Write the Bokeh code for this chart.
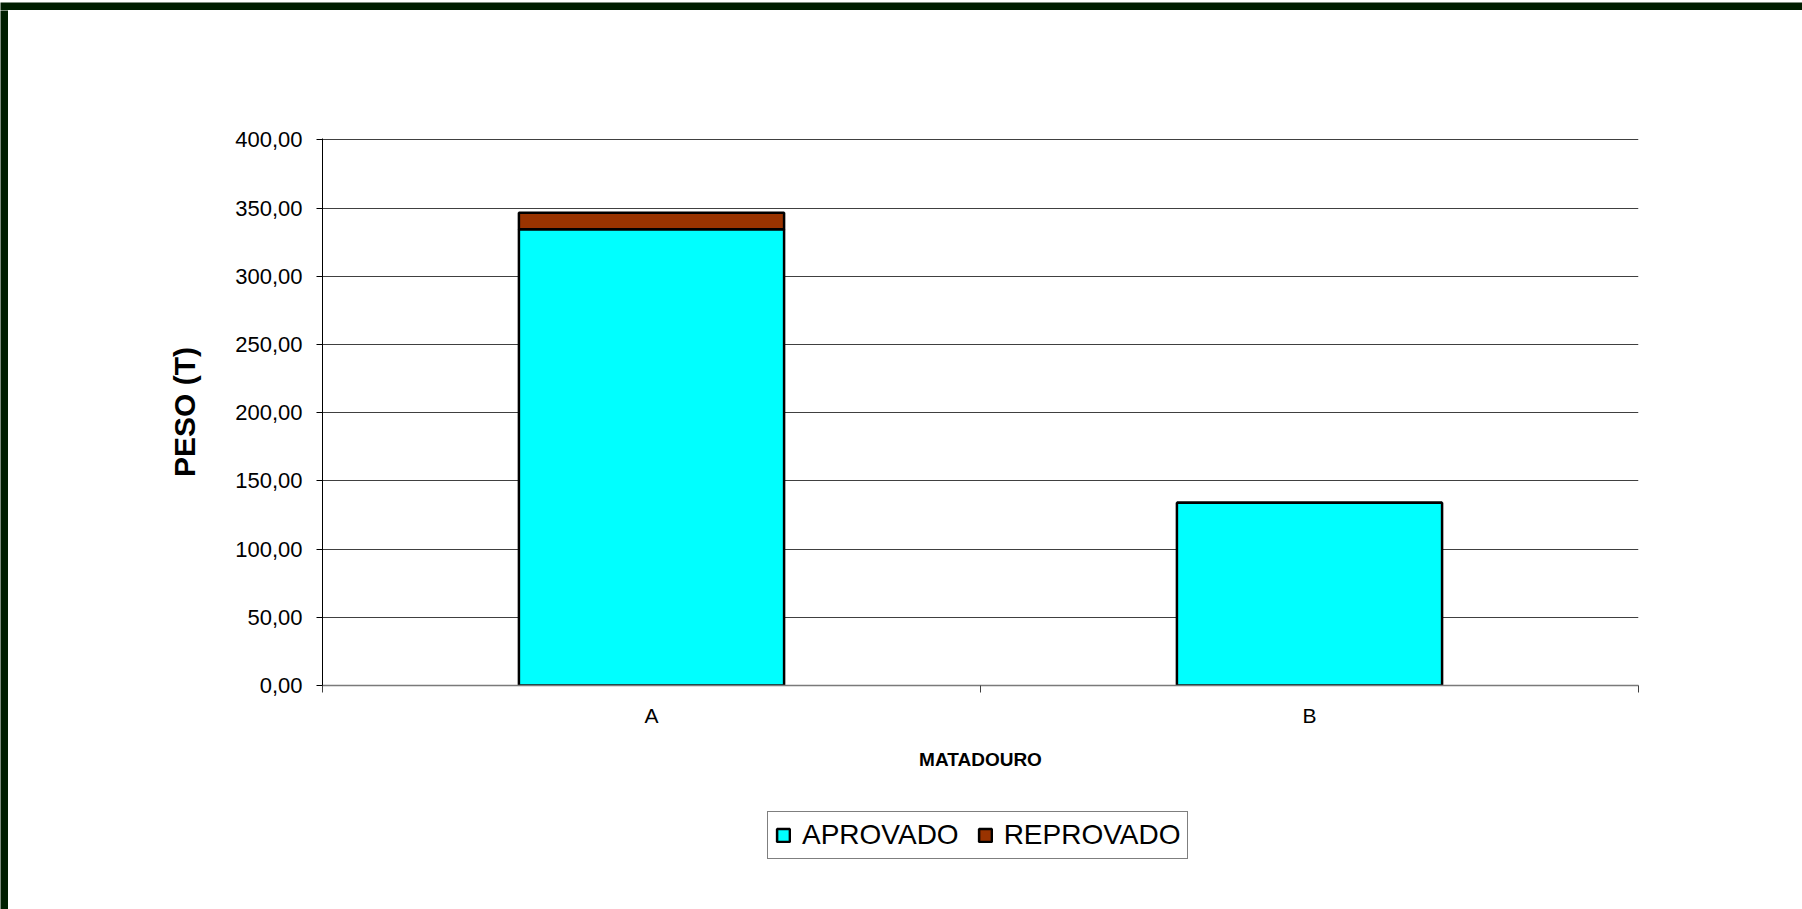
from bokeh.plotting import figure
from bokeh.models import Range1d, FixedTicker, Legend, LegendItem, ColumnDataSource
from bokeh.layouts import column, row
from bokeh.embed import file_html
from bokeh.resources import INLINE

# ---- data ----
categories = ["A", "B"]
aprovado = [334.5, 134.0]
reprovado = [12.0, 0.0]
series_names = ["APROVADO", "REPROVADO"]
series_colors = ["#00FFFF", "#993300"]
y_ticks = [0, 50, 100, 150, 200, 250, 300, 350, 400]
y_tick_labels = ["0,00", "50,00", "100,00", "150,00", "200,00", "250,00", "300,00", "350,00", "400,00"]
x_title = "MATADOURO"
y_title = "PESO (T)"

FONT = "Liberation Sans"
FRAME = "#001e00"

n = len(categories)
xpos = [i + 0.5 for i in range(n)]
bounds = [float(i) for i in range(n + 1)]

src = ColumnDataSource(dict(x=xpos, cat=categories, APROVADO=aprovado, REPROVADO=reprovado))


def blank(w, h, color, **kw):
    f = figure(width=w, height=h, output_backend="svg", toolbar_location=None,
               x_axis_type=None, y_axis_type=None, min_border=0,
               x_range=Range1d(0, 1), y_range=Range1d(0, 1), **kw)
    f.background_fill_color = color
    f.border_fill_color = color
    f.outline_line_color = None
    return f


p = figure(width=1794, height=780, output_backend="svg", toolbar_location=None,
           x_range=Range1d(0, n), y_range=Range1d(y_ticks[0], y_ticks[-1] + 1),
           min_border_left=314, min_border_right=164, min_border_top=128, min_border_bottom=105)
p.background_fill_color = "white"
p.border_fill_color = "white"
p.outline_line_color = None

renderers = p.vbar_stack(series_names, x="x", width=0.403, source=src,
                         fill_color=series_colors, line_color="black", line_width=2.5)

# axes
xa = p.xaxis[0]
xa.ticker = FixedTicker(ticks=xpos, minor_ticks=bounds)
xa.major_label_overrides = {x: c for x, c in zip(xpos, categories)}
xa.major_tick_out = 0
xa.major_tick_in = 0
xa.minor_tick_out = 7
xa.minor_tick_in = 0
xa.minor_tick_line_color = "#404040"
xa.axis_line_color = "#7a7a7a"
xa.axis_line_width = 1.5
xa.major_label_text_font = FONT
xa.major_label_text_font_size = "21px"
xa.major_label_text_color = "black"
xa.major_label_standoff = 11
xa.axis_label = x_title
xa.axis_label_text_font = FONT
xa.axis_label_text_font_size = "19px"
xa.axis_label_text_font_style = "bold"
xa.axis_label_text_color = "black"
xa.axis_label_standoff = 19

ya = p.yaxis[0]
ya.ticker = FixedTicker(ticks=y_ticks, minor_ticks=[])
ya.major_label_overrides = {t: l for t, l in zip(y_ticks, y_tick_labels)}
ya.major_tick_out = 6
ya.major_tick_in = 0
ya.major_tick_line_color = "black"
ya.axis_line_color = "black"
ya.minor_tick_line_color = None
ya.major_label_text_font = FONT
ya.major_label_text_font_size = "22px"
ya.major_label_text_color = "black"
ya.major_label_standoff = 14
ya.axis_label = y_title
ya.axis_label_text_font = FONT
ya.axis_label_text_font_size = "30px"
ya.axis_label_text_font_style = "bold"
ya.axis_label_text_color = "black"
ya.axis_label_standoff = 31

p.xgrid.grid_line_color = None
p.ygrid.grid_line_color = "#404040"
p.ygrid.grid_line_width = 1

# legend in its own strip below the chart (frame aligned with the chart's frame)
lf = blank(1794, 119, "white", min_border_left=314, min_border_right=164)
legend_renderers = lf.vbar_stack(series_names, x="x", width=0.403, source=src,
                                 fill_color=series_colors, line_color="black", line_width=2.5)
for r in legend_renderers:
    r.visible = False
legend = Legend(items=[LegendItem(label=nm, renderers=[r]) for nm, r in zip(series_names, legend_renderers)],
                orientation="horizontal", location=(445, 50))
legend.label_text_font = FONT
legend.label_text_font_size = "28px"
legend.label_text_color = "black"
legend.glyph_width = 16
legend.glyph_height = 16
legend.label_standoff = 11
legend.spacing = 18
legend.padding = 7
legend.margin = 0
legend.border_line_color = "black"
legend.border_line_width = 1
legend.background_fill_color = "white"
legend.background_fill_alpha = 1
legend.inactive_fill_alpha = 0
lf.add_layout(legend, "center")

top_strip = blank(1802, 10, FRAME)
left_strip = blank(8, 899, FRAME)

page = column(top_strip, row(left_strip, column(p, lf, spacing=0), spacing=0), spacing=0)

open("out.html", "w").write(file_html(page, INLINE))
